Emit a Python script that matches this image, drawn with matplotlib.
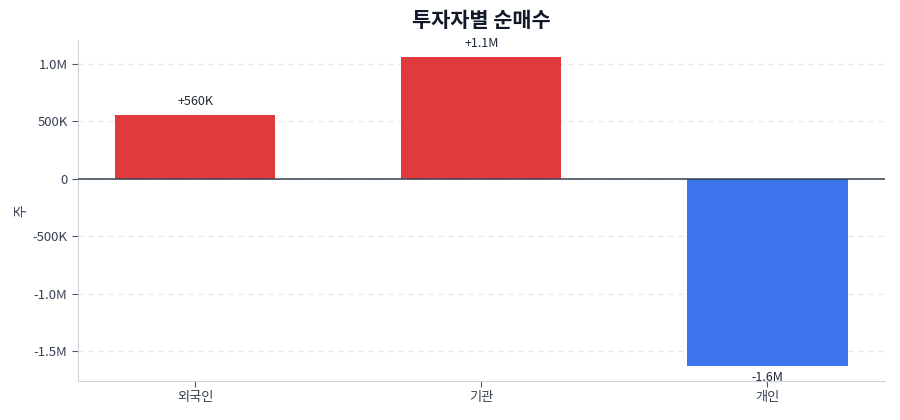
import matplotlib
matplotlib.use('Agg')
import matplotlib.pyplot as plt
from matplotlib.ticker import FuncFormatter

plt.rcParams['font.family'] = ['Noto Sans CJK KR', 'DejaVu Sans']

investors = ['외국인', '기관', '개인']
net_buy   = [560_000, 1_060_000, -1_630_000]
bar_labels = ['+560K', '+1.1M', '-1.6M']

RED  = '#e03a3c'
BLUE = '#3b74eb'


def fmt(v, _pos=None):
    if v == 0:
        return '0'
    if abs(v) >= 1_000_000:
        return f'{v / 1_000_000:.1f}M'
    return f'{v / 1000:.0f}K'


fig = plt.figure(figsize=(9, 4.2), dpi=100)
ax = fig.add_axes([0.0867, 0.0929, 0.8963, 0.8119])

x = range(len(investors))
colors = [RED if v >= 0 else BLUE for v in net_buy]
bars = ax.bar(x, net_buy, width=0.56, color=colors, zorder=2)

for b, v, lab in zip(bars, net_buy, bar_labels):
    cx = b.get_x() + b.get_width() / 2
    if v >= 0:
        ax.annotate(lab, (cx, v), xytext=(0, 5), textcoords='offset points',
                    ha='center', va='bottom', fontsize=9, color='#1f2937')
    else:
        ax.annotate(lab, (cx, v), xytext=(0, -3), textcoords='offset points',
                    ha='center', va='top', fontsize=9, color='#1f2937')

ax.axhline(0, color='#374151', lw=1.1, zorder=3)

ax.set_xlim(-0.41, 2.41)
ax.set_ylim(-1_757_000, 1_209_000)
ax.set_yticks([-1_500_000, -1_000_000, -500_000, 0, 500_000, 1_000_000])
ax.yaxis.set_major_formatter(FuncFormatter(fmt))
ax.set_xticks(list(x), investors)

ax.grid(axis='y', ls=(0, (4, 4)), color='#e5e7eb', lw=0.9, zorder=0)
for s in ['top', 'right']:
    ax.spines[s].set_visible(False)
for s in ['left', 'bottom']:
    ax.spines[s].set_color('#d1d5db')
ax.tick_params(colors='#4b5563', labelsize=9.5, length=4, labelcolor='#374151')

ax.set_ylabel('주', fontsize=10, color='#374151', labelpad=3)
ax.set_title('투자자별 순매수', fontsize=15, fontweight='bold', color='#111827', pad=9)

fig.savefig('out.png', dpi=100)
